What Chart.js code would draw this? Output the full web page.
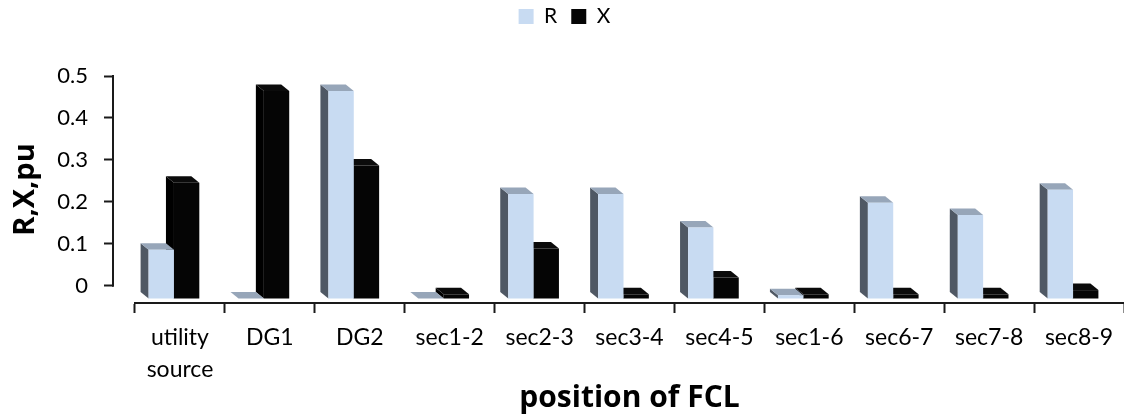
<!DOCTYPE html>
<html>
<head>
<meta charset="utf-8">
<script src="https://cdn.jsdelivr.net/npm/chart.js@4/dist/chart.umd.min.js"></script>
<style>
  html, body { margin: 0; padding: 0; background: #ffffff; overflow: hidden; }
  #wrap { width: 1124px; height: 417px; }
</style>
</head>
<body>
<div id="wrap"><canvas id="c" width="1124" height="417"></canvas></div>
<script>
// ---- data ----
const categories = [['utility', 'source'], 'DG1', 'DG2', 'sec1-2', 'sec2-3', 'sec3-4', 'sec4-5', 'sec1-6', 'sec6-7', 'sec7-8', 'sec8-9'];
const seriesNames = ['R', 'X'];
const rValues = [0.116, 0, 0.495, 0, 0.249, 0.249, 0.169, 0.008, 0.228, 0.199, 0.259];
const xValues = [0.276, 0.495, 0.317, 0.01, 0.119, 0.01, 0.05, 0.01, 0.01, 0.01, 0.02];
const yTickValues = [0, 0.1, 0.2, 0.3, 0.4, 0.5];
const yTickLabels = ['0', '0.1', '0.2', '0.3', '0.4', '0.5'];
const xTitle = 'position of FCL';
const yTitle = 'R,X,pu';

// ---- style ----
const axisColor = '#1a1a1a';
const frontColors = ['#c8dbf2', '#050505'];
const faceColors = [{ side: '#4f5864', top: '#97a6b9' }, { side: '#000000', top: '#0b0b0b' }];
const depth = { dx: 8, dy: 6.5 };
const shiftX = -6;

const bars3d = {
  id: 'bars3d',
  beforeDatasetsDraw(chart) { chart.ctx.save(); chart.ctx.translate(shiftX, 0); },
  beforeDatasetDraw(chart, args) {
    const ctx = chart.ctx;
    const fc = faceColors[args.index];
    args.meta.data.forEach(el => {
      const p = el.getProps(['x', 'y', 'base', 'width'], true);
      const l = p.x - p.width / 2, r = p.x + p.width / 2;
      const top = Math.min(p.y, p.base), base = Math.max(p.y, p.base);
      ctx.fillStyle = fc.side;
      ctx.beginPath();
      ctx.moveTo(l, top); ctx.lineTo(l - depth.dx, top - depth.dy);
      ctx.lineTo(l - depth.dx, base - depth.dy); ctx.lineTo(l, base);
      ctx.closePath(); ctx.fill();
      ctx.fillStyle = fc.top;
      ctx.beginPath();
      ctx.moveTo(l, top); ctx.lineTo(l - depth.dx, top - depth.dy);
      ctx.lineTo(r - depth.dx, top - depth.dy); ctx.lineTo(r, top);
      ctx.closePath(); ctx.fill();
    });
  },
  afterDatasetsDraw(chart) { chart.ctx.restore(); }
};

const yAxisLine = {
  id: 'yAxisLine',
  afterDraw(chart) {
    const s = chart.scales.yv;
    const ctx = chart.ctx;
    ctx.save();
    ctx.strokeStyle = axisColor;
    ctx.lineWidth = 2;
    ctx.beginPath();
    ctx.moveTo(s.right, s.getPixelForValue(yTickValues[yTickValues.length - 1]) - 1);
    ctx.lineTo(s.right, s.getPixelForValue(yTickValues[0]) + 1);
    ctx.stroke();
    ctx.restore();
  }
};

const legendHeight = {
  id: 'legendHeight',
  beforeLayout(chart) {
    const lg = chart.legend;
    if (lg && !lg._patched) {
      const orig = lg.fit;
      lg.fit = function () { orig.call(this); this.height = 84; };
      lg._patched = true;
    }
  }
};

function build() {
  new Chart(document.getElementById('c'), {
    type: 'bar',
    data: {
      labels: categories,
      datasets: [
        { label: seriesNames[0], data: rValues, backgroundColor: frontColors[0], borderWidth: 0, yAxisID: 'y' },
        { label: seriesNames[1], data: xValues, backgroundColor: frontColors[1], borderWidth: 0, yAxisID: 'y' }
      ]
    },
    options: {
      responsive: false,
      maintainAspectRatio: false,
      devicePixelRatio: 1,
      animation: false,
      categoryPercentage: 0.564,
      barPercentage: 1,
      layout: { padding: { top: -8, right: -5, left: 0, bottom: 0 } },
      plugins: {
        tooltip: { enabled: false },
        legend: {
          display: true,
          position: 'top',
          labels: {
            boxWidth: 15, boxHeight: 15, padding: 14, color: '#000',
            font: { family: 'Lato', size: 21 }
          }
        }
      },
      scales: {
        x: {
          type: 'category',
          offset: true,
          grid: { offset: true, drawOnChartArea: false, drawTicks: true, tickLength: 10, tickWidth: 2, color: axisColor, tickColor: axisColor },
          border: { display: true, color: axisColor, width: 2 },
          ticks: { color: '#000', font: { family: 'Lato', size: 23, lineHeight: 1.4 }, padding: 8, maxRotation: 0, autoSkip: false },
          title: { display: true, text: xTitle, color: '#000', font: { family: 'Open Sans', size: 30, weight: 'bold' }, padding: { top: 0, bottom: 1 } },
          afterFit(s) { s.height = 114; }
        },
        yv: {
          type: 'linear',
          position: 'left',
          weight: 1,
          min: -0.0413,
          max: 0.5,
          afterBuildTicks(s) { s.ticks = yTickValues.map(v => ({ value: v })); },
          grid: { drawOnChartArea: false, drawTicks: true, tickLength: 9, tickWidth: 2, color: axisColor, tickColor: axisColor },
          border: { display: false },
          ticks: { color: '#000', font: { family: 'Lato', size: 22 }, padding: 16, callback: (v, i) => yTickLabels[i] },
          title: { display: true, text: yTitle, color: '#000', font: { family: 'Open Sans', size: 29, weight: 'bold' }, padding: { top: 8, bottom: 0 } },
          afterFit(s) { s.width = 113; }
        },
        y: {
          type: 'linear',
          position: 'left',
          weight: 0,
          min: -0.01073,
          max: 0.5305,
          grid: { display: false },
          border: { display: false },
          ticks: { display: false },
          title: { display: false },
          afterFit(s) { s.width = 22; }
        }
      }
    },
    plugins: [legendHeight, bars3d, yAxisLine]
  });
}

const fontLoads = ['22px Lato', '23px Lato', 'bold 29px "Open Sans"', 'bold 30px "Open Sans"'].map(f => document.fonts.load(f).catch(() => null));
Promise.all(fontLoads).then(build, build);
</script>
</body>
</html>
